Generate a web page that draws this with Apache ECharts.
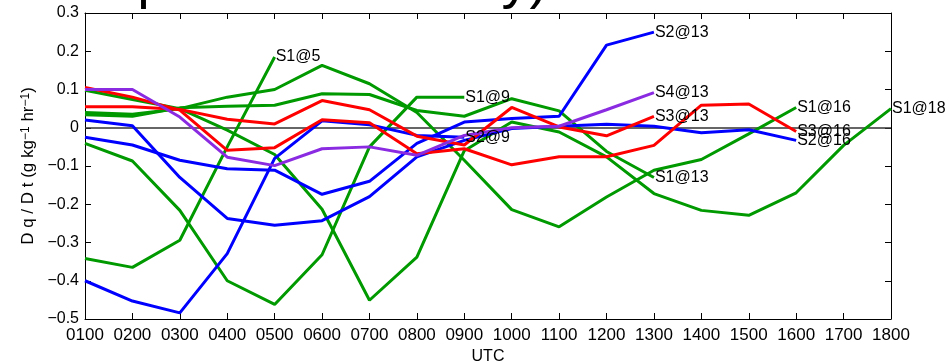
<!DOCTYPE html>
<html>
<head>
<meta charset="utf-8">
<script src="https://cdn.jsdelivr.net/npm/echarts@6/dist/echarts.min.js"></script>
<style>
  html, body { margin: 0; padding: 0; background: #fff; }
  #chart { width: 949px; height: 363px; }
</style>
</head>
<body>
<div id="chart"></div>
<script>
// Hourly time axis (UTC)
const hours = ['0100','0200','0300','0400','0500','0600','0700','0800','0900',
               '1000','1100','1200','1300','1400','1500','1600','1700','1800'];

// Dq/Dt along each trajectory, one value per hour from 0100 to the end hour
const s1at5  = [-0.342, -0.365, -0.294, -0.05, 0.185];
const s1at9  = [-0.041, -0.087, -0.216, -0.40, -0.462, -0.332, -0.05, 0.08, 0.08];
const s1at13 = [0.034, 0.03, 0.052, 0.056, 0.059, 0.089, 0.087, 0.045, 0.03, 0.076, 0.044, -0.062, -0.13];
const s1at16 = [0.04, 0.035, 0.05, 0.08, 0.1, 0.163, 0.115, 0.04, -0.085, -0.214, -0.259, -0.181, -0.111, -0.083, -0.016, 0.053];
const s1at18 = [0.098, 0.074, 0.05, -0.006, -0.07, -0.213, -0.451, -0.338, -0.06, 0.015, -0.011, -0.076, -0.172, -0.216, -0.229, -0.17, -0.046, 0.05];
const s2at9  = [-0.40, -0.453, -0.484, -0.329, -0.08, 0.018, 0.008, -0.02, -0.025];
const s2at13 = [-0.025, -0.045, -0.085, -0.107, -0.111, -0.174, -0.14, -0.041, 0.015, 0.024, 0.03, 0.216, 0.25];
const s2at16 = [0.02, 0.005, -0.13, -0.237, -0.255, -0.243, -0.18, -0.076, -0.033, -0.002, 0.004, 0.009, 0.004, -0.013, -0.005, -0.033];
const s3at13 = [0.055, 0.055, 0.048, 0.022, 0.01, 0.071, 0.047, -0.022, -0.045, 0.053, 0.002, -0.021, 0.03];
const s3at16 = [0.105, 0.08, 0.046, -0.059, -0.052, 0.021, 0.013, -0.068, -0.055, -0.097, -0.076, -0.076, -0.046, 0.059, 0.062, -0.01];
const s4at13 = [0.1, 0.1, 0.028, -0.077, -0.099, -0.055, -0.05, -0.072, -0.02, 0.0, 0.004, 0.047, 0.092];

const GREEN = '#009900', BLUE = '#0000ff', RED = '#ff0000', PURPLE = '#8a2be2';
const FONT = 'Liberation Sans, Arial, Helvetica, sans-serif';

const trajectories = [
  { name: 'S1@5',  color: GREEN,  data: s1at5 },
  { name: 'S1@9',  color: GREEN,  data: s1at9 },
  { name: 'S1@13', color: GREEN,  data: s1at13 },
  { name: 'S1@16', color: GREEN,  data: s1at16 },
  { name: 'S1@18', color: GREEN,  data: s1at18 },
  { name: 'S2@9',  color: BLUE,   data: s2at9 },
  { name: 'S2@13', color: BLUE,   data: s2at13 },
  { name: 'S2@16', color: BLUE,   data: s2at16 },
  { name: 'S3@13', color: RED,    data: s3at13 },
  { name: 'S3@16', color: RED,    data: s3at16 },
  { name: 'S4@13', color: PURPLE, data: s4at13 }
];

const fmtY = v => {
  const r = Math.round(v * 10) / 10;
  return r < 0 ? '\u2212' + Math.abs(r) : String(r);
};

const series = trajectories.map((t, i) => ({
  type: 'line',
  name: t.name,
  data: t.data,
  symbol: 'none',
  lineStyle: { color: t.color, width: 3 },
  itemStyle: { color: t.color },
  z: 3,
  endLabel: {
    show: true,
    formatter: '{a}',
    distance: 1,
    color: '#000',
    fontFamily: FONT,
    fontSize: 16
  },
  markLine: i === 0 ? {
    silent: true,
    symbol: ['none', 'none'],
    label: { show: false },
    lineStyle: { color: '#333', width: 1.5, type: 'solid' },
    data: [{ yAxis: 0 }],
    z: 1
  } : undefined
}));

const frameAxisLine = { show: true, onZero: false, lineStyle: { color: '#000', width: 1 } };
const frameTick = { show: true, inside: true, length: 6, interval: 0, lineStyle: { color: '#000', width: 1 } };

const chart = echarts.init(document.getElementById('chart'), null, { renderer: 'canvas' });
chart.setOption({
  animation: false,
  backgroundColor: '#fff',
  grid: { left: 85, right: 58, top: 13, bottom: 44, containLabel: false, outerBoundsMode: 'none' },
  graphic: [{
    type: 'text',
    left: 100,
    top: -46,
    z: 0,
    style: {
      text: 'Specific Humidity)',
      fontFamily: FONT,
      fontSize: 56,
      fill: '#000'
    }
  }],
  xAxis: [{
    type: 'category',
    data: hours,
    boundaryGap: false,
    position: 'bottom',
    axisLine: frameAxisLine,
    axisTick: frameTick,
    axisLabel: { interval: 0, color: '#000', fontFamily: FONT, fontSize: 17, margin: 8 },
    splitLine: { show: false },
    name: 'UTC',
    nameLocation: 'middle',
    nameGap: 25,
    nameTextStyle: { color: '#000', fontFamily: FONT, fontSize: 16 }
  }, {
    type: 'category',
    data: hours,
    boundaryGap: false,
    position: 'top',
    axisLine: frameAxisLine,
    axisTick: frameTick,
    axisLabel: { show: false },
    splitLine: { show: false }
  }],
  yAxis: [{
    type: 'value',
    min: -0.5,
    max: 0.3,
    interval: 0.1,
    position: 'left',
    axisLine: frameAxisLine,
    axisTick: frameTick,
    axisLabel: { color: '#000', fontFamily: FONT, fontSize: 16, margin: 6, formatter: fmtY },
    splitLine: { show: false },
    name: 'D q / D t (g kg{sup|\u22121} hr{sup|\u22121})',
    nameLocation: 'middle',
    nameGap: 46,
    nameRotate: 90,
    nameTextStyle: {
      color: '#000',
      fontFamily: FONT,
      fontSize: 17,
      rich: {
        sup: { fontFamily: FONT, fontSize: 12, verticalAlign: 'top', color: '#000' }
      }
    }
  }, {
    type: 'value',
    min: -0.5,
    max: 0.3,
    interval: 0.1,
    position: 'right',
    axisLine: frameAxisLine,
    axisTick: frameTick,
    axisLabel: { show: false },
    splitLine: { show: false }
  }],
  series: series
});
</script>
</body>
</html>
